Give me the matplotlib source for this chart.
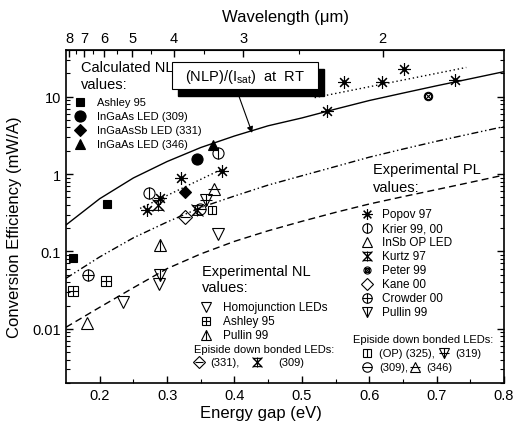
import matplotlib
matplotlib.use('Agg')
import matplotlib.pyplot as plt
import numpy as np
from matplotlib.patches import Rectangle
from matplotlib.ticker import FixedLocator, LogLocator, NullFormatter

plt.rcParams['font.family'] = ['Liberation Sans', 'DejaVu Sans']
plt.rcParams['mathtext.fontset'] = 'custom'
plt.rcParams['mathtext.rm'] = 'Liberation Sans'

# model curves (energy gap eV, mW/A)
curve_E = [0.15, 0.2, 0.25, 0.3, 0.35, 0.4, 0.45, 0.5, 0.55, 0.6, 0.65, 0.7, 0.75, 0.8]
nlp_curve = [0.22, 0.48, 0.89, 1.45, 2.2, 3.1, 4.2, 5.3, 6.9, 8.9, 11.1, 13.8, 17.0, 21.0]
pl_upper = [0.045, 0.085, 0.15, 0.24, 0.37, 0.52, 0.72, 0.95, 1.25, 1.65, 2.1, 2.65, 3.3, 4.1]
pl_lower = [0.0105, 0.019, 0.034, 0.06, 0.093, 0.135, 0.185, 0.245, 0.32, 0.41, 0.51, 0.63, 0.78, 0.97]
dot1_E = [0.26, 0.38]
dot1_v = [0.36, 1.14]
dot2_E = [0.519, 0.744]
dot2_v = [9.7, 23.8]

# calculated NL values
calc_ashley_E = [0.16, 0.211]
calc_ashley_v = [0.083, 0.41]
calc_309_E = [0.345]
calc_309_v = [1.55]
calc_331_E = [0.326]
calc_331_v = [0.58]
calc_346_E = [0.368]
calc_346_v = [2.4]

# experimental PL values
popov_E = [0.27, 0.289, 0.32, 0.381, 0.538, 0.563, 0.619, 0.651, 0.728]
popov_v = [0.34, 0.49, 0.9, 1.08, 6.5, 15.5, 15.5, 23.0, 16.6]
krier_E = [0.273, 0.376]
krier_v = [0.57, 1.87]
insb_E = [0.181]
insb_v = [0.012]
kurtz_E = [0.287]
kurtz_v = [0.40]
peter_E = [0.687]
peter_v = [10.2]
crowder_E = [0.182]
crowder_v = [0.049]
pullin_pl_E = [0.289]
pullin_pl_v = [0.049]
op325_E = [0.366]
op325_v = [0.34]
ep319_E = [0.358]
ep319_v = [0.46]
ep309pl_E = [0.349]
ep309pl_v = [0.35]
ep346_E = [0.369]
ep346_v = [0.65]

# experimental NL values
homo_E = [0.234, 0.288, 0.376]
homo_v = [0.022, 0.038, 0.17]
ashley_nl_E = [0.161, 0.210]
ashley_nl_v = [0.031, 0.042]
pullin_nl_E = [0.289]
pullin_nl_v = [0.12]
ep331_E = [0.326]
ep331_v = [0.28]
ep309nl_E = [0.344]
ep309nl_v = [0.34]

wl_major = [8, 7, 6, 5, 4, 3, 2]
wl_minor = [7.5, 6.5, 5.5, 4.5, 3.5, 2.5]

HOURGLASS = [(-1, 1), (1, 1), (-1, -1), (1, -1), (-1, 1)]

# marker recipes: list of (marker, size, filled)
SYM = {
    'sq': [('s', 6, True)],
    'ci': [('o', 8, True)],
    'di': [('D', 6, True)],
    'tr': [('^', 7, True)],
    'popov': [((8, 2, 0), 9, False), ('o', 2.5, True)],
    'krier': [('o', 8, False), ('|', 8, False)],
    'insb': [('^', 9, False)],
    'kurtz': [(HOURGLASS, 7, False), ('x', 8, False), ('|', 8, False)],
    'peter': [('o', 6, False), ('s', 4, False), ('x', 4, False)],
    'kane': [('D', 7, False)],
    'crowder': [('o', 8, False), ('+', 8, False)],
    'pullin_pl': [('v', 9, False), ('|', 9, False)],
    'homo': [('v', 9, False)],
    'ashley_nl': [('s', 7, False), ('+', 7, False)],
    'pullin_nl': [('^', 9, False), ('|', 9, False)],
    'ep331': [('D', 7, False), ('_', 7, False)],
    'ep309nl': [(HOURGLASS, 7, False), ('x', 8, False), ('|', 8, False)],
    'op325': [('s', 6, False), ('|', 6, False)],
    'ep319': [('v', 9, False), ('+', 9, False)],
    'ep309pl': [('o', 8, False), ('_', 8, False)],
    'ep346': [('^', 8, False), ('_', 9, False)],
}


def draw(ax, x, y, key, scale=1.0, **kw):
    for m, s, filled in SYM[key]:
        ax.plot(x, y, linestyle='none', marker=m, ms=s * scale,
                mfc='k' if filled else 'none', mec='k', mew=0.8,
                clip_on=False, **kw)


def main():
    fig = plt.figure(figsize=(5.13, 4.27), dpi=100)
    ax = fig.add_axes([66 / 513, 43 / 427, 438 / 513, 333 / 427])

    ax.plot(curve_E, nlp_curve, color='k', lw=1.0)
    ax.plot(curve_E, pl_upper, color='k', lw=1.0, ls=(0, (5, 2, 1, 2, 1, 2)))
    ax.plot(curve_E, pl_lower, color='k', lw=1.0, ls=(0, (5, 3)))
    ax.plot(dot1_E, dot1_v, color='k', lw=1.0, ls=(0, (1, 2)))
    ax.plot(dot2_E, dot2_v, color='k', lw=1.0, ls=(0, (1, 2)))

    draw(ax, calc_ashley_E, calc_ashley_v, 'sq')
    draw(ax, calc_309_E, calc_309_v, 'ci')
    draw(ax, calc_331_E, calc_331_v, 'di')
    draw(ax, calc_346_E, calc_346_v, 'tr')
    draw(ax, popov_E, popov_v, 'popov')
    draw(ax, krier_E, krier_v, 'krier')
    draw(ax, insb_E, insb_v, 'insb')
    draw(ax, kurtz_E, kurtz_v, 'kurtz')
    draw(ax, peter_E, peter_v, 'peter')
    draw(ax, crowder_E, crowder_v, 'crowder')
    draw(ax, pullin_pl_E, pullin_pl_v, 'pullin_pl')
    draw(ax, op325_E, op325_v, 'op325')
    draw(ax, ep319_E, ep319_v, 'ep319')
    draw(ax, ep309pl_E, ep309pl_v, 'ep309pl')
    draw(ax, ep346_E, ep346_v, 'ep346')
    draw(ax, homo_E, homo_v, 'homo')
    draw(ax, ashley_nl_E, ashley_nl_v, 'ashley_nl')
    draw(ax, pullin_nl_E, pullin_nl_v, 'pullin_nl')
    draw(ax, ep331_E, ep331_v, 'ep331')
    draw(ax, ep309nl_E, ep309nl_v, 'ep309nl')

    ax.set_xlim(0.15, 0.8)
    ax.set_yscale('log')
    ax.set_ylim(0.002, 40)
    ax.set_xticks([0.2, 0.3, 0.4, 0.5, 0.6, 0.7, 0.8])
    ax.set_xticklabels(['0.2', '0.3', '0.4', '0.5', '0.6', '0.7', '0.8'])
    ax.xaxis.set_minor_locator(FixedLocator([0.25, 0.35, 0.45, 0.55, 0.65, 0.75]))
    ax.set_yticks([0.01, 0.1, 1, 10])
    ax.set_yticklabels(['0.01', '0.1', '1', '10'])
    ax.yaxis.set_minor_locator(LogLocator(base=10, subs=np.arange(2, 10)))
    ax.yaxis.set_minor_formatter(NullFormatter())
    ax.tick_params(which='both', direction='in', right=True, labelsize=10.5)
    ax.tick_params(axis='x', which='both', top=False)
    ax.tick_params(which='major', length=5, width=1)
    ax.tick_params(which='minor', length=3, width=0.8)
    for s in ax.spines.values():
        s.set_linewidth(1.2)

    ax.set_xlabel('Energy gap (eV)', fontsize=12)
    ax.xaxis.set_label_coords(0.445, -0.065)
    ax.set_ylabel('Conversion Efficiency (mW/A)', fontsize=12)
    ax.yaxis.set_label_coords(-0.1, 0.47)

    top = ax.secondary_xaxis('top', functions=(lambda e: 1.24 / np.clip(e, 1e-6, None),
                                               lambda l: 1.24 / np.clip(l, 1e-6, None)))
    top.set_xticks(wl_major)
    top.set_xticklabels([str(v) for v in wl_major])
    top.xaxis.set_minor_locator(FixedLocator(wl_minor))
    top.tick_params(which='both', direction='in', labelsize=10.5)
    top.tick_params(which='major', length=5, width=1)
    top.tick_params(which='minor', length=3, width=0.8)
    top.set_xlabel('Wavelength (\u03bcm)', fontsize=12, labelpad=7)

    # boxed label with shadow and arrow
    ax.add_patch(Rectangle((0.256, 0.862), 0.333, 0.081, transform=ax.transAxes,
                           facecolor='k', edgecolor='k', zorder=5))
    ax.add_patch(Rectangle((0.242, 0.883), 0.333, 0.081, transform=ax.transAxes,
                           facecolor='white', edgecolor='k', lw=0.8, zorder=6))
    ax.text(0.4085, 0.922, '(NLP)/(I$_{\\mathrm{sat}}$)  at  RT', transform=ax.transAxes,
            ha='center', va='center', fontsize=10.5, zorder=7)
    ax.annotate('', xy=(0.425, 0.751), xytext=(0.393, 0.868), xycoords='axes fraction',
                arrowprops=dict(arrowstyle='-|>', color='k', lw=0.8,
                                mutation_scale=9, shrinkA=0, shrinkB=0))

    T = ax.transAxes
    # calculated legend
    ax.text(0.034, 0.949, 'Calculated NL', transform=T, fontsize=10.5, va='center')
    ax.text(0.034, 0.898, 'values:', transform=T, fontsize=10.5, va='center')
    calc_rows = [('sq', 'Ashley 95'), ('ci', 'InGaAs LED (309)'),
                 ('di', 'InGaAsSb LED (331)'), ('tr', 'InGaAs LED (346)')]
    for i, (k, lab) in enumerate(calc_rows):
        yy = 0.844 - i * 0.042
        draw(ax, [0.032], [yy], k, transform=T)
        ax.text(0.071, yy, lab, transform=T, fontsize=8, va='center')

    # PL legend
    ax.text(0.701, 0.643, 'Experimental PL', transform=T, fontsize=10.5, va='center')
    ax.text(0.701, 0.589, 'values:', transform=T, fontsize=10.5, va='center')
    pl_rows = [('popov', 'Popov 97'), ('krier', 'Krier 99, 00'), ('insb', 'InSb OP LED'),
               ('kurtz', 'Kurtz 97'), ('peter', 'Peter 99'), ('kane', 'Kane 00'),
               ('crowder', 'Crowder 00'), ('pullin_pl', 'Pullin 99')]
    for i, (k, lab) in enumerate(pl_rows):
        yy = 0.5075 - i * 0.0422
        draw(ax, [0.687], [yy], k, scale=0.85, transform=T)
        ax.text(0.721, yy, lab, transform=T, fontsize=8.5, va='center')
    ax.text(0.6545, 0.132, 'Episide down bonded LEDs:', transform=T, fontsize=8, va='center')
    draw(ax, [0.687], [0.089], 'op325', scale=0.85, transform=T)
    ax.text(0.7146, 0.089, '(OP) (325),', transform=T, fontsize=8, va='center')
    draw(ax, [0.863], [0.089], 'ep319', scale=0.8, transform=T)
    ax.text(0.888, 0.089, '(319)', transform=T, fontsize=8, va='center')
    draw(ax, [0.687], [0.047], 'ep309pl', scale=0.85, transform=T)
    ax.text(0.7146, 0.047, '(309),', transform=T, fontsize=8, va='center')
    draw(ax, [0.797], [0.047], 'ep346', scale=0.85, transform=T)
    ax.text(0.822, 0.047, '(346)', transform=T, fontsize=8, va='center')

    # NL legend
    ax.text(0.31, 0.337, 'Experimental NL', transform=T, fontsize=10.5, va='center')
    ax.text(0.31, 0.287, 'values:', transform=T, fontsize=10.5, va='center')
    nl_rows = [('homo', 'Homojunction LEDs'), ('ashley_nl', 'Ashley 95'),
               ('pullin_nl', 'Pullin 99')]
    for i, (k, lab) in enumerate(nl_rows):
        yy = 0.229 - i * 0.042
        draw(ax, [0.320], [yy], k, scale=0.85, transform=T)
        ax.text(0.358, yy, lab, transform=T, fontsize=8.5, va='center')
    ax.text(0.293, 0.102, 'Episide down bonded LEDs:', transform=T, fontsize=8, va='center')
    draw(ax, [0.304], [0.062], 'ep331', scale=0.85, transform=T)
    ax.text(0.330, 0.062, '(331),', transform=T, fontsize=8, va='center')
    draw(ax, [0.437], [0.062], 'ep309nl', scale=0.85, transform=T)
    ax.text(0.4847, 0.062, '(309)', transform=T, fontsize=8, va='center')

    fig.savefig('out.png', dpi=100)


if __name__ == "__main__":
    main()
